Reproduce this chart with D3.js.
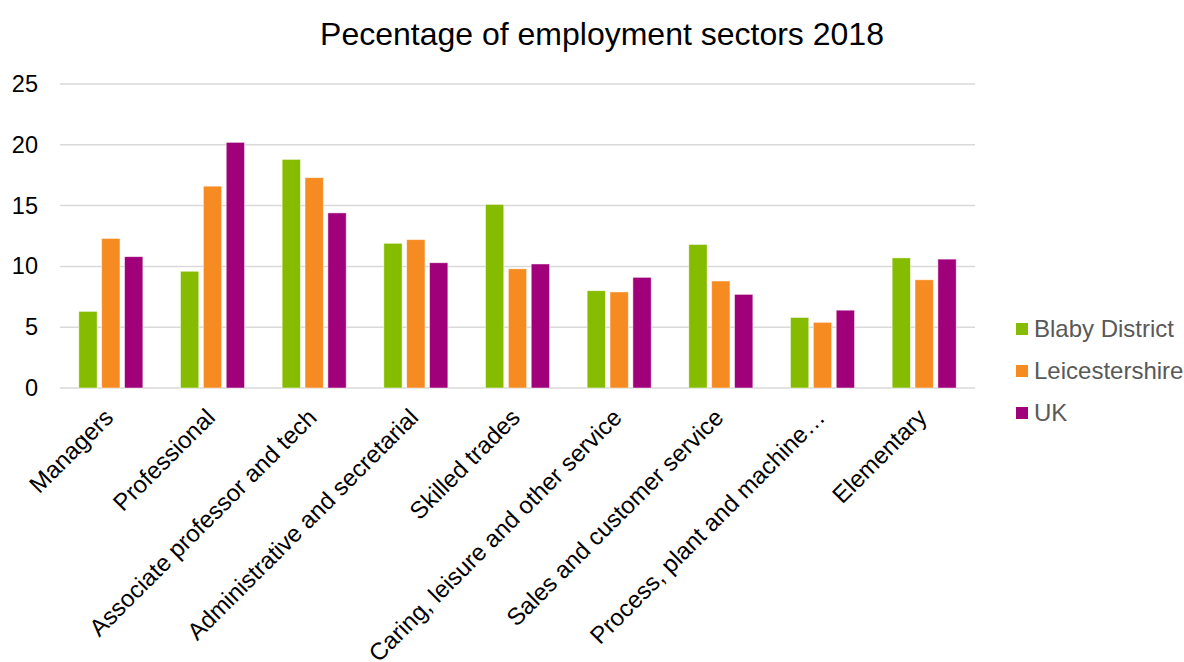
<!DOCTYPE html>
<html>
<head>
<meta charset="utf-8">
<script src="https://cdn.jsdelivr.net/npm/d3@7"></script>
<style>
  html, body { margin: 0; padding: 0; background: #fff; overflow: hidden; }
  svg { display: block; font-family: "Liberation Sans", Arial, sans-serif; }
</style>
</head>
<body>
<svg id="chart" width="1184" height="662"></svg>
<script>
// Occupation groups shown along the x axis
const categories = [
  "Managers",
  "Professional",
  "Associate professor and tech",
  "Administrative and secretarial",
  "Skilled trades",
  "Caring, leisure and other service",
  "Sales and customer service",
  "Process, plant and machine…",
  "Elementary"
];

const seriesNames = ["Blaby District", "Leicestershire", "UK"];

// Percentage of employment per sector
const blabyValues = [6.3, 9.6, 18.8, 11.9, 15.1, 8.0, 11.8, 5.8, 10.7];
const leicsValues = [12.3, 16.6, 17.3, 12.2, 9.8, 7.9, 8.8, 5.4, 8.9];
const ukValues    = [10.8, 20.2, 14.4, 10.3, 10.2, 9.1, 7.7, 6.4, 10.6];

const yTicks = [0, 5, 10, 15, 20, 25];
const seriesColors = ["#86bc00", "#f68b21", "#a0007a"];

const seriesValues = [blabyValues, leicsValues, ukValues];

const svg = d3.select("#chart");
const margin = { left: 60, right: 209, top: 84, bottom: 274 };
const W = 1184, H = 662;
const plotW = W - margin.left - margin.right;
const plotH = H - margin.top - margin.bottom;

const x = d3.scaleBand().domain(categories).range([0, plotW]).paddingInner(0.37).paddingOuter(0.185);
const xs = d3.scaleBand().domain(seriesNames).range([0, x.bandwidth()]).paddingInner(0.2);
const y = d3.scaleLinear().domain([0, 25]).range([plotH, 0]);

const g = svg.append("g").attr("transform", `translate(${margin.left},${margin.top})`);

// Horizontal gridlines
g.append("g")
  .selectAll("line")
  .data(yTicks)
  .join("line")
  .attr("x1", 0).attr("x2", plotW)
  .attr("y1", d => y(d)).attr("y2", d => y(d))
  .attr("stroke", "#d9d9d9")
  .attr("stroke-width", 1.5);

// Y axis labels
const yAxis = d3.axisLeft(y).tickValues(yTicks).tickSize(0).tickPadding(22);
g.append("g").call(yAxis)
  .call(a => a.select(".domain").remove())
  .selectAll("text")
  .attr("font-size", 23.5)
  .attr("font-family", "Liberation Sans, Arial, sans-serif")
  .attr("fill", "#000");

// Bars
const groups = g.append("g")
  .selectAll("g")
  .data(categories)
  .join("g")
  .attr("transform", d => `translate(${x(d)},0)`);

groups.selectAll("rect")
  .data((c, i) => seriesNames.map((s, k) => ({ s, k, v: seriesValues[k][i] })))
  .join("rect")
  .attr("x", d => xs(d.s))
  .attr("width", xs.bandwidth())
  .attr("y", d => y(d.v))
  .attr("height", d => y(0) - y(d.v))
  .attr("fill", d => seriesColors[d.k])
  .attr("stroke", "rgba(255,255,255,0.6)")
  .attr("stroke-width", 0.8);

// Rotated category labels
const xAxis = d3.axisBottom(x).tickSize(0).tickPadding(0);
const xa = g.append("g").attr("transform", `translate(0,${plotH})`).call(xAxis);
xa.select(".domain").remove();
xa.selectAll("text")
  .attr("font-size", 24)
  .attr("font-family", "Liberation Sans, Arial, sans-serif")
  .attr("fill", "#000")
  .attr("text-anchor", "end")
  .attr("dy", "0")
  .attr("transform", "translate(4,31) rotate(-45)");

// Title
svg.append("text")
  .attr("x", 602)
  .attr("y", 45)
  .attr("text-anchor", "middle")
  .attr("font-size", 32)
  .attr("fill", "#000")
  .text("Pecentage of employment sectors 2018");

// Legend
const legend = svg.append("g").attr("transform", "translate(1016,329)");
const items = legend.selectAll("g")
  .data(seriesNames)
  .join("g")
  .attr("transform", (d, i) => `translate(0,${i * 42})`);
items.append("rect")
  .attr("x", 0).attr("y", -6)
  .attr("width", 12).attr("height", 12)
  .attr("fill", (d, i) => seriesColors[i]);
items.append("text")
  .attr("x", 18).attr("y", 8)
  .attr("font-size", 24)
  .attr("fill", "#595959")
  .text(d => d);
</script>
</body>
</html>
